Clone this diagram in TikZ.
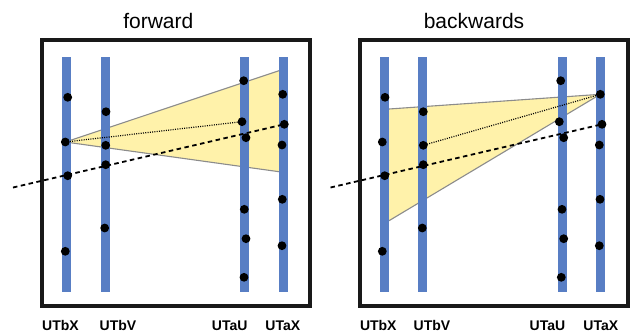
\documentclass[tikz,border=0pt]{standalone}
\usepackage{fontspec}
\setmainfont{Liberation Sans}
\definecolor{barblue}{RGB}{88,126,196}
\definecolor{triyellow}{RGB}{255,242,170}
\definecolor{edgegray}{RGB}{140,140,140}
\tikzset{
  frame/.style={draw=black!90, line width=4pt},
  bar/.style={fill=barblue, draw=none, minimum width=9pt, minimum height=235pt, inner sep=0pt, outer sep=0pt},
  dot/.style={circle, fill=black, minimum size=8.8pt, inner sep=0pt, outer sep=0pt},
  trifill/.style={fill=triyellow, draw=none},
  triedge/.style={draw=edgegray, line width=1.1pt},
  fineline/.style={line width=1.2pt, dash pattern=on 1pt off 1.3pt},
  dashline/.style={line width=1.8pt, dash pattern=on 4.5pt off 3.5pt},
  title/.style={font=\fontsize{21}{21}\selectfont, anchor=base, inner sep=0pt},
  lab/.style={font=\fontsize{14}{14}\selectfont\bfseries, anchor=base, inner sep=0pt},
}
\begin{document}
\begin{tikzpicture}[x=1pt,y=-1pt]
\useasboundingbox[fill=white] (0,0) rectangle (631,333);
% titles
\node[title] (tf) at (158.3,28) {forward};
\node[title] (tb) at (474,28) {backwards};
% frames
\draw[frame] (42,40) rectangle (310,306);
\draw[frame] (360,40) rectangle (627.5,306);
% ---------- forward ----------
\coordinate (lfu) at (279,70.7);
\coordinate (lfd) at (279,171.7);
\coordinate (lapex) at (65.3,142);
\fill[trifill] (lapex) -- (lfu) -- (lfd) -- cycle;
\draw[triedge] (lapex) -- (lfu);
\draw[triedge] (lapex) -- (lfd);
\node[bar] (lb1) at (66.5,174.2) {};
\node[bar] (lb2) at (105.5,174.2) {};
\node[bar] (lb3) at (244.5,174.2) {};
\node[bar] (lb4) at (283.5,174.2) {};
\node[dot] (l1a) at (67.7,97.3) {};
\node[dot] (l1b) at (65.3,142) {};
\node[dot] (l1c) at (67.7,175.7) {};
\node[dot] (l1d) at (65.3,251.3) {};
\node[dot] (l2a) at (106,111.7) {};
\node[dot] (l2b) at (105.7,145.3) {};
\node[dot] (l2c) at (105.7,164.7) {};
\node[dot] (l2d) at (104.7,228) {};
\node[dot] (l3a) at (243.7,80.7) {};
\node[dot] (l3b) at (242,121.7) {};
\node[dot] (l3c) at (246,137.7) {};
\node[dot] (l3d) at (244.3,209.3) {};
\node[dot] (l3e) at (246,238.7) {};
\node[dot] (l3f) at (244,277.3) {};
\node[dot] (l4a) at (282.7,94.3) {};
\node[dot] (l4b) at (284.3,124.3) {};
\node[dot] (l4c) at (282,145) {};
\node[dot] (l4d) at (282.3,199.3) {};
\node[dot] (l4e) at (282,245.7) {};
\coordinate (lstart) at (13,187.5);
\draw[fineline] (l1b.center) -- (l3b.center);
\draw[dashline] (lstart) -- (l4b.center);
% ---------- backwards ----------
\coordinate (rbu) at (389,109);
\coordinate (rbd) at (389,220.7);
\coordinate (rapex) at (600.3,94.3);
\fill[trifill] (rapex) -- (rbu) -- (rbd) -- cycle;
\draw[triedge] (rapex) -- (rbu);
\draw[triedge] (rapex) -- (rbd);
\node[bar] (rb1) at (384.5,174.2) {};
\node[bar] (rb2) at (422.5,174.2) {};
\node[bar] (rb3) at (562.5,174.2) {};
\node[bar] (rb4) at (600.5,174.2) {};
\node[dot] (r1a) at (385,97.3) {};
\node[dot] (r1b) at (382.3,142) {};
\node[dot] (r1c) at (384.7,175.7) {};
\node[dot] (r1d) at (382.3,251.3) {};
\node[dot] (r2a) at (423.3,111.7) {};
\node[dot] (r2b) at (423.3,145.3) {};
\node[dot] (r2c) at (423.3,164.7) {};
\node[dot] (r2d) at (422.3,228) {};
\node[dot] (r3a) at (560.7,80.7) {};
\node[dot] (r3b) at (559.3,121.7) {};
\node[dot] (r3c) at (563.7,137.7) {};
\node[dot] (r3d) at (562,209.3) {};
\node[dot] (r3e) at (563.7,238.7) {};
\node[dot] (r3f) at (561.3,277.3) {};
\node[dot] (r4a) at (600.3,94.3) {};
\node[dot] (r4b) at (602,124.3) {};
\node[dot] (r4c) at (599.3,145) {};
\node[dot] (r4d) at (600,199.3) {};
\node[dot] (r4e) at (599.3,245.7) {};
\coordinate (rstart) at (330.5,187.5);
\draw[fineline] (r4a.center) -- (r2b.center);
\draw[dashline] (rstart) -- (r4b.center);
% labels
\node[lab] (ll1) at (60.5,330) {UTbX};
\node[lab] (ll2) at (118,330) {UTbV};
\node[lab] (ll3) at (229.7,330) {UTaU};
\node[lab] (ll4) at (282.8,330) {UTaX};
\node[lab] (rl1) at (378.3,330) {UTbX};
\node[lab] (rl2) at (432,330) {UTbV};
\node[lab] (rl3) at (547.5,330) {UTaU};
\node[lab] (rl4) at (600.8,330) {UTaX};
\end{tikzpicture}
\end{document}
